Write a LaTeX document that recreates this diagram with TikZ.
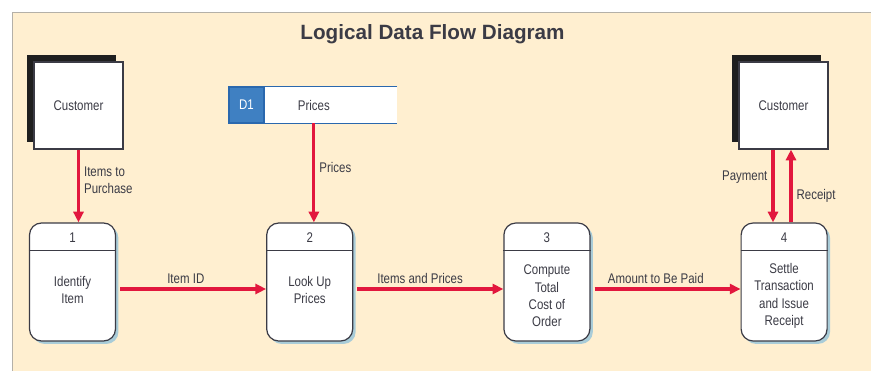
\documentclass[tikz,border=0pt]{standalone}
\usepackage{fontspec}
\setmainfont{Liberation Sans}
\newfontfamily\narrowfont{Liberation Sans}[FakeStretch=0.82]
\usetikzlibrary{arrows.meta,positioning,calc,shadows}
\definecolor{panel}{HTML}{FFEFD0}
\definecolor{panelline}{HTML}{B4B0A8}
\definecolor{flowred}{HTML}{E2173D}
\definecolor{storeblue}{HTML}{2A68AE}
\definecolor{idblue}{HTML}{3F80C2}
\definecolor{shadeblue}{HTML}{A9CCD8}
\definecolor{ink}{HTML}{3B3B45}
\tikzset{
    %Define standard arrow tip
    >={Triangle[length=8pt,width=7.5pt]},
    lbl/.style={
      font=\narrowfont\fontsize{10.5}{13}\selectfont,
      text=ink,
      align=center,
      inner sep=1pt},
    entity/.style={
      rectangle,
      draw=ink, line width=0.9pt,
      fill=white,
      minimum width=66.75pt,
      minimum height=65.25pt,
      lbl,
      drop shadow={shadow xshift=-5.25pt, shadow yshift=4.9pt,
        fill=black!88, opacity=1}},
    proc/.style={
      rectangle,
      rounded corners=9pt,
      draw=ink, line width=0.9pt,
      fill=white,
      minimum width=64.5pt,
      minimum height=88.5pt,
      drop shadow={shadow xshift=2.2pt, shadow yshift=-2.2pt,
        fill=shadeblue, opacity=1}},
    divline/.style={
      draw=ink, line width=0.9pt},
    storeid/.style={
      rectangle,
      draw=storeblue, line width=0.9pt,
      fill=idblue,
      minimum width=26.25pt,
      minimum height=27pt,
      lbl, text=white},
    storename/.style={
      rectangle,
      fill=white,
      minimum width=73.5pt,
      minimum height=27pt,
      lbl},
    storeline/.style={
      draw=storeblue, line width=0.9pt},
    flow/.style={
      ->,
      draw=flowred, line width=2.4pt},
    titletext/.style={
      font=\bfseries\fontsize{15.5}{18}\selectfont,
      text=ink},
}
\begin{document}
\begin{tikzpicture}[x=0.75pt,y=-0.75pt,node distance=112.5pt]
    \useasboundingbox (0,0) rectangle (871,371);
    % background panel
    \fill[panel] (12,12) rectangle (871,371);
    \draw[panelline, line width=0.6pt] (871,12) -- (12,12) -- (12,371);

    \node (title) [titletext] at (432.5,34)
          {Logical Data Flow Diagram};

    % processes
    \node (p1) [proc] at (72.5,282) {};
    \node (p2) [proc] [right=of p1] {};
    \node (p3) [proc] [right=of p2] {};
    \node (p4) [proc] [right=of p3] {};
    \draw[divline] ($(p1.north west)+(0,28)$) -- ($(p1.north east)+(0,28)$);
    \draw[divline] ($(p2.north west)+(0,28)$) -- ($(p2.north east)+(0,28)$);
    \draw[divline] ($(p3.north west)+(0,28)$) -- ($(p3.north east)+(0,28)$);
    \draw[divline] ($(p4.north west)+(0,28)$) -- ($(p4.north east)+(0,28)$);
    \node (n1) [lbl] at ($(p1.north)+(0,15)$) {1};
    \node (n2) [lbl] at ($(p2.north)+(0,15)$) {2};
    \node (n3) [lbl] at ($(p3.north)+(0,15)$) {3};
    \node (n4) [lbl] at ($(p4.north)+(0,15)$) {4};
    \node (t1) [lbl] at ($(p1.center)+(0,8)$) {Identify\\Item};
    \node (t2) [lbl] at ($(p2.center)+(0,8)$) {Look Up\\Prices};
    \node (t3) [lbl] at ($(p3.center)+(0,14)$) {Compute\\Total\\Cost of\\Order};
    \node (t4) [lbl] at ($(p4.center)+(0,14)$) {Settle\\Transaction\\and Issue\\Receipt};

    % external entities
    \node (cust1) [entity] at (78.5,105.5) {Customer};
    \node (cust2) [entity] at (783.5,105.5) {Customer};

    % data store
    \node (d1) [storeid] at (246.5,105) {D1};
    \node (prices) [storename] [right=0pt of d1] {Prices};
    \coordinate (storeend) at (397,105);
    \fill[white] (prices.north east) rectangle (prices.south -| storeend);
    \draw[storeline] (prices.north west -| storeend) -- (prices.north west)
          -- (prices.south west) -- (prices.south west -| storeend);

    % data flows
    \draw[flow] (cust1.south) -- (cust1.south |- p1.north)
          node [lbl, right=2pt, align=left, pos=0.42] {Items to\\Purchase};
    \draw[flow] (prices.south) -- (prices.south |- p2.north)
          node [lbl, right=2pt, pos=0.45] {Prices};
    \draw[flow] ($(p1.east)+(4,7)$) -- ($(p2.west)+(0,7)$)
          node [lbl, above=2pt, pos=0.45] {Item ID};
    \draw[flow] ($(p2.east)+(4,7)$) -- ($(p3.west)+(0,7)$)
          node [lbl, above=2pt, pos=0.43] {Items and Prices};
    \draw[flow] ($(p3.east)+(4,7)$) -- ($(p4.west)+(0,7)$)
          node [lbl, above=2pt, pos=0.42] {Amount to Be Paid};
    \coordinate (payout) at ($(cust2.south)+(-10.5,0)$);
    \coordinate (recin) at ($(cust2.south)+(7.5,0)$);
    \draw[flow] (payout) -- (payout |- p4.north)
          node [lbl, left=2pt, pos=0.38] {Payment};
    \draw[flow] (recin |- p4.north) -- (recin)
          node [lbl, right=2pt, pos=0.37] {Receipt};
\end{tikzpicture}
\end{document}
